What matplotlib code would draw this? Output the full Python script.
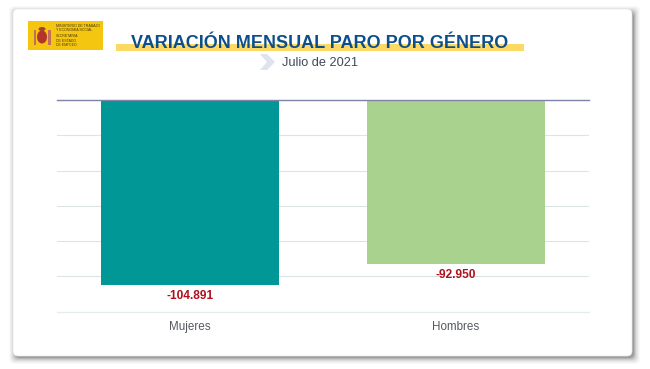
import matplotlib
matplotlib.use('Agg')
import matplotlib.pyplot as plt
from matplotlib.patches import FancyBboxPatch, Rectangle, Polygon, Ellipse

plt.rcParams['font.family'] = ['Liberation Sans', 'DejaVu Sans']

# Data
categories = ['Mujeres', 'Hombres']
values = [-104891, -92950]
value_labels = ['-104.891', '-92.950']
bar_colors = ['#009796', '#a8d28e']
y_ticks = [0, -20000, -40000, -60000, -80000, -100000, -120000]

W, H = 650, 369


def px_axes(fig):
    # background axes in image pixels, y going down
    bg = fig.add_axes([0, 0, 1, 1], zorder=0)
    bg.set_xlim(0, W)
    bg.set_ylim(H, 0)
    bg.axis('off')
    return bg


def draw_card(bg):
    # soft shadow, heavier on the right and bottom
    for grow, alpha in [(6, 0.03), (5, 0.04), (4, 0.05), (3, 0.07), (2, 0.1), (1, 0.15), (0, 0.22)]:
        bg.add_patch(FancyBboxPatch((15 - grow, 12 - grow), 619 + 2 * grow, 346 + 2 * grow,
                                    boxstyle='round,pad=0,rounding_size=5',
                                    fc='#404040', ec='none', alpha=alpha))
    bg.add_patch(FancyBboxPatch((13, 9), 619, 347,
                                boxstyle='round,pad=0,rounding_size=5',
                                fc='white', ec='#e6e6e6', lw=0.5))


def draw_logo(bg):
    bg.add_patch(Rectangle((28, 21), 75, 29, fc='#f4c60f', ec='none'))
    bg.add_patch(Ellipse((42, 37), 10, 13, fc='#b5342a', ec='none'))
    bg.add_patch(Rectangle((33.5, 30), 2.5, 15, fc='#c0705a', ec='none'))
    bg.add_patch(Rectangle((48, 30), 2.5, 15, fc='#c0705a', ec='none'))
    bg.add_patch(Ellipse((42, 29), 7, 4, fc='#a8402a', ec='none'))
    bg.text(56, 28, 'MINISTERIO DE TRABAJO\nY ECONOMÍA SOCIAL', fontsize=2.6, color='#4a3a10',
            va='center', ha='left', linespacing=1.0)
    bg.text(56, 40.5, 'SECRETARÍA\nDE ESTADO\nDE EMPLEO', fontsize=2.6, color='#4a3a10',
            va='center', ha='left', linespacing=1.1)


def draw_header(bg):
    bg.add_patch(Rectangle((116, 44), 408, 7, fc='#fbd964', ec='none'))
    bg.add_patch(Polygon([(260, 54), (267, 54), (275, 62), (267, 70), (260, 70), (267, 62)],
                         fc='#dfe3f0', ec='none'))
    bg.text(320, 43.5, 'VARIACIÓN MENSUAL PARO POR GÉNERO', fontsize=13.0, fontweight='bold',
            color='#0d4f8b', ha='center', va='center')
    bg.text(320, 63, 'Julio de 2021', fontsize=9.2, color='#3c4a5a', ha='center', va='center')


def draw_chart(fig):
    ax = fig.add_axes([57 / W, 1 - 311.5 / H, (589 - 57) / W, (311.5 - 100) / H], zorder=1)
    ax.patch.set_alpha(0)
    x = range(len(categories))
    ax.set_axisbelow(True)
    ax.grid(axis='y', color='#dbe5e5', lw=0.8)
    bars = ax.bar(x, values, width=0.667, color=bar_colors)
    ax.set_xlim(-0.5, 1.5)
    ax.set_ylim(y_ticks[-1], 0)
    ax.set_yticks(y_ticks)
    ax.tick_params(left=False, bottom=False, labelleft=False)
    ax.set_xticks(list(x))
    ax.set_xticklabels(categories, fontsize=8.4, color='#555a60')
    ax.tick_params(axis='x', pad=3.5)
    for s in ['left', 'right']:
        ax.spines[s].set_visible(False)
    ax.spines['bottom'].set_color('#e4ecec')
    ax.spines['bottom'].set_linewidth(0.8)
    ax.spines['top'].set_color('#7f83a8')
    ax.spines['top'].set_linewidth(1.0)

    for bar, label in zip(bars, value_labels):
        ax.annotate(label, (bar.get_x() + bar.get_width() / 2, bar.get_height()),
                    xytext=(0, -3.5), textcoords='offset points', ha='center', va='top',
                    fontsize=8.6, fontweight='bold', color='#b0101c')


def main():
    fig = plt.figure(figsize=(W / 100, H / 100), dpi=100, facecolor='white')
    bg = px_axes(fig)
    draw_card(bg)
    draw_logo(bg)
    draw_header(bg)
    draw_chart(fig)
    fig.savefig('out.png', dpi=100)
    plt.close(fig)


if __name__ == "__main__":
    main()
